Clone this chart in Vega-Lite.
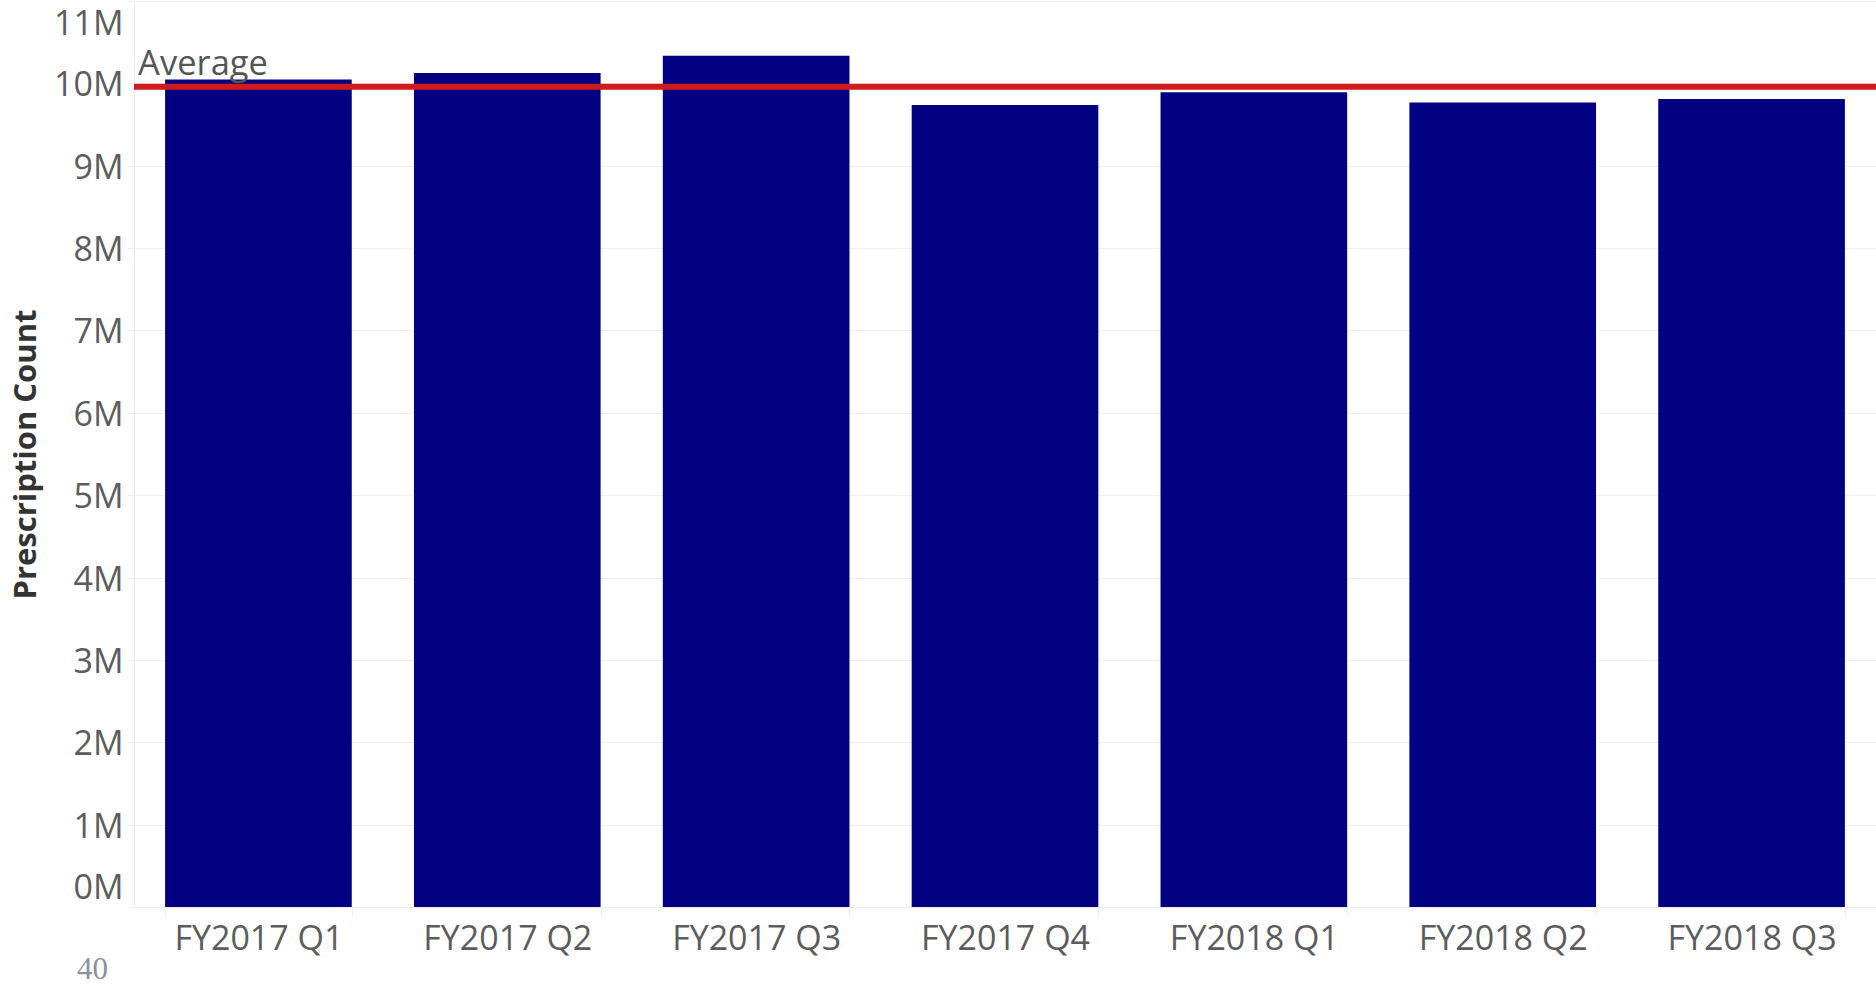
{
  "$schema": "https://vega.github.io/schema/vega-lite/v6.json",
  "width": 1742,
  "height": 906,
  "autosize": {"type": "none"},
  "padding": {"left": 134, "top": 1, "right": 0, "bottom": 79},
  "background": "white",
  "config": {
    "view": {"stroke": null},
    "font": "Open Sans"
  },
  "title": {
    "text": "40",
    "orient": "bottom",
    "anchor": "start",
    "frame": "group",
    "dx": -57,
    "offset": -1,
    "font": "Liberation Serif",
    "fontSize": 31,
    "fontWeight": "normal",
    "color": "#8b8fa3"
  },
  "data": {
    "values": [
      {"quarter": "FY2017 Q1", "count": 10048000},
      {"quarter": "FY2017 Q2", "count": 10126000},
      {"quarter": "FY2017 Q3", "count": 10336000},
      {"quarter": "FY2017 Q4", "count": 9738000},
      {"quarter": "FY2018 Q1", "count": 9891000},
      {"quarter": "FY2018 Q2", "count": 9769000},
      {"quarter": "FY2018 Q3", "count": 9811000}
    ]
  },
  "layer": [
    {
      "mark": {"type": "bar", "color": "#000080"},
      "encoding": {
        "x": {
          "field": "quarter",
          "type": "nominal",
          "sort": null,
          "scale": {"paddingInner": 0.25, "paddingOuter": 0.125},
          "axis": {
            "title": null,
            "labelAngle": 0,
            "labelFont": "Open Sans",
            "labelFontSize": 34,
            "labelColor": "#5c5c5c",
            "labelPadding": 7,
            "tickBand": "extent",
            "ticks": true,
            "tickSize": 8,
            "tickColor": "#ececec",
            "domain": true,
            "domainColor": "#ececec",
            "grid": false
          }
        },
        "y": {
          "field": "count",
          "type": "quantitative",
          "scale": {"domain": [0, 11000000], "nice": false},
          "axis": {
            "title": "Prescription Count",
            "titleFont": "Open Sans",
            "titleFontSize": 31,
            "titleFontWeight": "bold",
            "titleColor": "#333333",
            "titlePadding": 11,
            "values": [0, 1000000, 2000000, 3000000, 4000000, 5000000, 6000000, 7000000, 8000000, 9000000, 10000000, 11000000],
            "labelExpr": "datum.value / 1000000 + 'M'",
            "labelFont": "Open Sans",
            "labelFontSize": 34,
            "labelColor": "#5c5c5c",
            "labelPadding": 4,
            "labelOffset": 2.5,
            "labelFlush": true,
            "labelFlushOffset": -4,
            "ticks": true,
            "tickSize": 7,
            "tickColor": "#efefef",
            "domain": true,
            "domainColor": "#ececec",
            "grid": true,
            "gridColor": "#f0f0f0",
            "gridWidth": 1
          }
        }
      }
    },
    {
      "mark": {"type": "rule", "color": "#cf1b1b", "strokeWidth": 6},
      "encoding": {
        "y": {"aggregate": "mean", "field": "count", "type": "quantitative"}
      }
    },
    {
      "mark": {
        "type": "text",
        "align": "left",
        "baseline": "alphabetic",
        "dx": -27,
        "dy": -12,
        "font": "Open Sans",
        "fontSize": 34.5,
        "color": "#555555"
      },
      "encoding": {
        "x": {"datum": "FY2017 Q1", "type": "nominal", "bandPosition": 0},
        "y": {"aggregate": "mean", "field": "count", "type": "quantitative"},
        "text": {"value": "Average"}
      }
    }
  ]
}
